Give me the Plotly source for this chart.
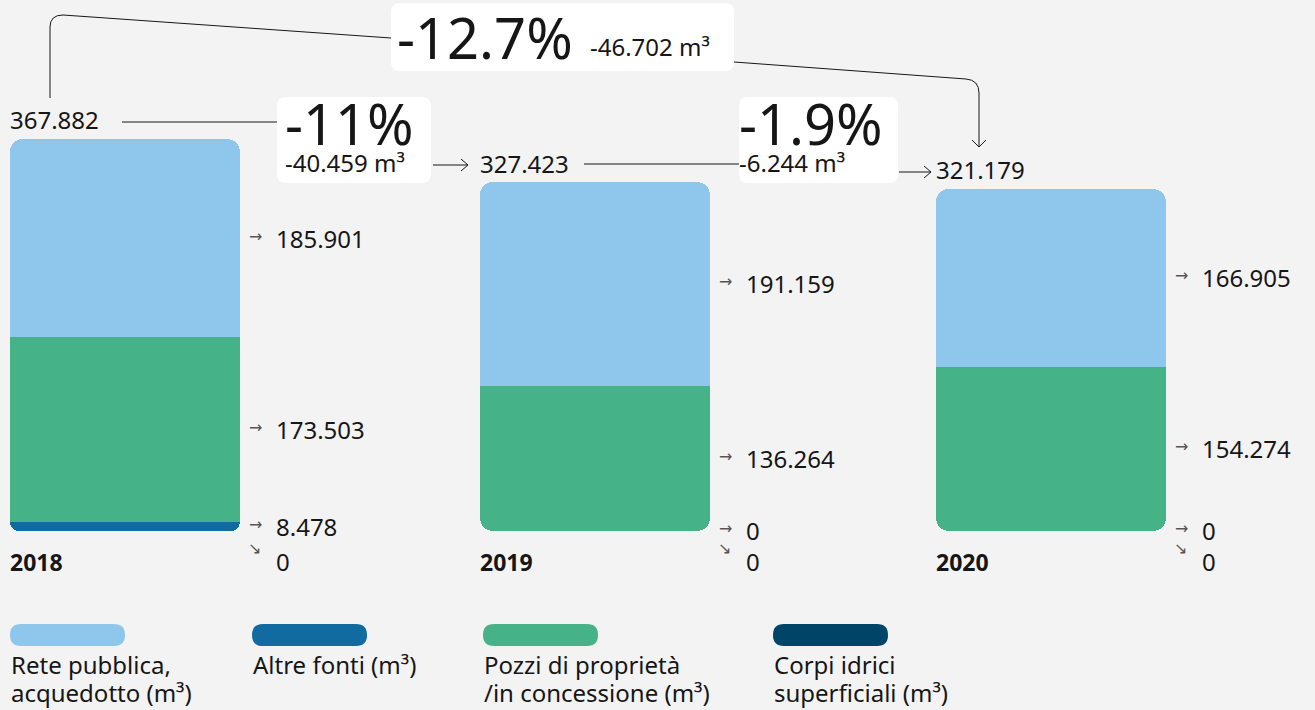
import plotly.graph_objects as go

W, H = 1315, 710

# ---------------- data ----------------
years = ["2018", "2019", "2020"]
rete = [185901, 191159, 166905]      # Rete pubblica, acquedotto
altre = [8478, 0, 0]                  # Altre fonti
pozzi = [173503, 136264, 154274]      # Pozzi di proprietà / in concessione
corpi = [0, 0, 0]                     # Corpi idrici superficiali
totals = [367882, 327423, 321179]
step_pct = ["-11%", "-1.9%"]
step_delta = ["-40.459 m³", "-6.244 m³"]
overall_pct = "-12.7%"
overall_delta = "-46.702 m³"
legend_names = ["Rete pubblica,<br>acquedotto (m³)", "Altre fonti (m³)",
                "Pozzi di proprietà<br>/in concessione (m³)", "Corpi idrici<br>superficiali (m³)"]

# ---------------- style ----------------
BG = "#f3f3f3"
INK = "#161616"
C_RETE = "#8fc7ec"
C_ALTRE = "#116aa0"
C_POZZI = "#45b387"
C_CORPI = "#004468"
FONT = "Noto Sans"
R = 13
bar_px = [(10, 240), (480, 710), (936, 1166)]
Y_RANGE = [-168000, 498300]


def fx(p):
    return p / W


def fy(p):
    return 1 - p / H


def fmt(v):
    return f"{v:,}".replace(",", ".")


fig = go.Figure()

# stack order bottom -> top
stack = [(corpi, C_CORPI), (altre, C_ALTRE), (pozzi, C_POZZI), (rete, C_RETE)]

layout_axes = {}
for i, yr in enumerate(years):
    xa = "x" if i == 0 else f"x{i + 1}"
    ya = f"y{i + 2}"
    segs = [(vals[i], col) for vals, col in stack if vals[i] > 0]
    # the bottom segment hangs below a pivot (so its lower end gets rounded),
    # the remaining segments stack above it (the top one gets rounded)
    pivot = 0
    for vals, col in stack:
        pivot += vals[i]
        if vals[i] > 0:
            break
    for k, (v, col) in enumerate(segs):
        fig.add_trace(go.Bar(
            x=[yr], y=[-v if k == 0 else v], width=[1],
            marker=dict(color=col, line=dict(width=0)),
            xaxis=xa, yaxis=ya, hoverinfo="skip", showlegend=False,
        ))
    a, b = bar_px[i]
    layout_axes["xaxis" if i == 0 else f"xaxis{i + 1}"] = dict(
        domain=[a / W, b / W], type="category", range=[-0.5, 0.5],
        visible=False, fixedrange=True, anchor=ya)
    layout_axes[f"yaxis{i + 2}"] = dict(
        range=[Y_RANGE[0] - pivot, Y_RANGE[1] - pivot], overlaying="y",
        visible=False, fixedrange=True)

annotations = []
label_font = dict(family=FONT, size=24, color=INK)
arrow_font = dict(family="DejaVu Sans", size=16, color="#555555")

for i, yr in enumerate(years):
    xd = ("x" if i == 0 else f"x{i + 1}") + " domain"
    mid_rete = corpi[i] + altre[i] + pozzi[i] + rete[i] / 2
    mid_pozzi = corpi[i] + altre[i] + pozzi[i] / 2
    mid_altre = corpi[i] + altre[i] / 2
    for yv, val in [(mid_rete, rete[i]), (mid_pozzi, pozzi[i]), (mid_altre, altre[i])]:
        annotations.append(dict(x=1, xref=xd, y=yv, yref="y", xshift=7, yshift=2,
                                text="→", showarrow=False, xanchor="left", yanchor="middle",
                                font=arrow_font))
        annotations.append(dict(x=1, xref=xd, y=yv, yref="y", xshift=34, yshift=0,
                                text=fmt(val), showarrow=False, xanchor="left", yanchor="middle",
                                font=label_font))
    # corpi idrici label (below base)
    annotations.append(dict(x=1, xref=xd, y=corpi[i] / 2, yref="y", xshift=6, yshift=-18,
                            text="↘", showarrow=False, xanchor="left", yanchor="middle",
                            font=arrow_font))
    annotations.append(dict(x=1, xref=xd, y=corpi[i] / 2, yref="y", xshift=34, yshift=-31,
                            text=fmt(corpi[i]), showarrow=False, xanchor="left", yanchor="middle",
                            font=label_font))
    # totals
    annotations.append(dict(x=0, xref=xd, y=totals[i], yref="y", xshift=-2, yshift=19,
                            text=fmt(totals[i]), showarrow=False, xanchor="left", yanchor="middle",
                            font=label_font))
    # year
    annotations.append(dict(x=0, xref=xd, y=0, yref="y", xshift=-2, yshift=-31,
                            text=f"<b>{yr}</b>", showarrow=False, xanchor="left", yanchor="middle",
                            font=dict(family=FONT, size=23, color=INK)))

big = dict(family=FONT, size=56, color=INK)
small = dict(family=FONT, size=24, color=INK)


def ptext(x, y, text, font, anchor="middle"):
    annotations.append(dict(x=fx(x), y=fy(y), xref="paper", yref="paper", text=text,
                            showarrow=False, xanchor="left", yanchor=anchor, font=font))


ptext(395, 37, overall_pct, big)
ptext(588, 46, overall_delta, small)
ptext(283, 123, step_pct[0], big)
ptext(283, 162, step_delta[0], small)
ptext(737, 123, step_pct[1], big)
ptext(737, 162, step_delta[1], small)

# legend
leg_cols = [C_RETE, C_ALTRE, C_POZZI, C_CORPI]
leg_x = [10, 252, 483, 773]
shapes = []
for name, col, lx in zip(legend_names, leg_cols, leg_x):
    x0, x1, y0, y1 = lx, lx + 115, 624, 646
    r = 11
    path = (f"M {fx(x0 + r)},{fy(y0)} L {fx(x1 - r)},{fy(y0)} "
            f"Q {fx(x1)},{fy(y0)} {fx(x1)},{fy(y0 + r)} Q {fx(x1)},{fy(y1)} {fx(x1 - r)},{fy(y1)} "
            f"L {fx(x0 + r)},{fy(y1)} Q {fx(x0)},{fy(y1)} {fx(x0)},{fy(y1 - r)} "
            f"Q {fx(x0)},{fy(y0)} {fx(x0 + r)},{fy(y0)} Z")
    shapes.append(dict(type="path", path=path, xref="paper", yref="paper",
                       fillcolor=col, line=dict(width=0), layer="above"))
    for j, line in enumerate(name.split("<br>")):
        ptext(lx - 1, 664 + 28 * j, line, dict(family=FONT, size=24, color=INK))


def rrect(x0, y0, x1, y1, r):
    return (f"M {fx(x0 + r)},{fy(y0)} L {fx(x1 - r)},{fy(y0)} Q {fx(x1)},{fy(y0)} {fx(x1)},{fy(y0 + r)} "
            f"L {fx(x1)},{fy(y1 - r)} Q {fx(x1)},{fy(y1)} {fx(x1 - r)},{fy(y1)} "
            f"L {fx(x0 + r)},{fy(y1)} Q {fx(x0)},{fy(y1)} {fx(x0)},{fy(y1 - r)} "
            f"L {fx(x0)},{fy(y0 + r)} Q {fx(x0)},{fy(y0)} {fx(x0 + r)},{fy(y0)} Z")


for (x0, y0, x1, y1) in [(391, 3, 734, 71), (277, 97, 431, 183), (739, 97, 898, 183)]:
    shapes.append(dict(type="path", path=rrect(x0, y0, x1, y1, 9), xref="paper", yref="paper",
                       fillcolor="white", line=dict(width=0), layer="below"))


def pline(pts):
    d = "M " + " L ".join(f"{fx(a)},{fy(b)}" for a, b in pts)
    shapes.append(dict(type="path", path=d, xref="paper", yref="paper",
                       line=dict(color=INK, width=1)))


pline([(122, 122), (277, 122)])
pline([(433, 165), (468, 165)])
pline([(461, 159), (468, 165), (461, 171)])
pline([(584, 164), (739, 164)])
pline([(899, 172), (931, 172)])
pline([(924, 166), (931, 172), (924, 178)])
arc = (f"M {fx(50)},{fy(98)} L {fx(50)},{fy(27)} Q {fx(50)},{fy(15)} {fx(63)},{fy(15)} "
       f"L {fx(391)},{fy(38)}")
shapes.append(dict(type="path", path=arc, xref="paper", yref="paper", line=dict(color=INK, width=1)))
arc2 = (f"M {fx(734)},{fy(62)} L {fx(966)},{fy(79)} Q {fx(979)},{fy(80)} {fx(979)},{fy(93)} "
        f"L {fx(979)},{fy(147)}")
shapes.append(dict(type="path", path=arc2, xref="paper", yref="paper", line=dict(color=INK, width=1)))
pline([(972, 140), (979, 147), (986, 140)])

fig.update_layout(
    width=W, height=H, margin=dict(l=0, r=0, t=0, b=0),
    paper_bgcolor=BG, plot_bgcolor=BG,
    barmode="relative", bargap=0, barcornerradius=R,
    yaxis=dict(range=Y_RANGE, visible=False, fixedrange=True, domain=[0, 1]),
    annotations=annotations, shapes=shapes, showlegend=False,
    **layout_axes,
)

fig.write_html("out.html", config={"displayModeBar": False},
               post_script="document.body.style.margin='0';document.body.style.overflow='hidden';")
